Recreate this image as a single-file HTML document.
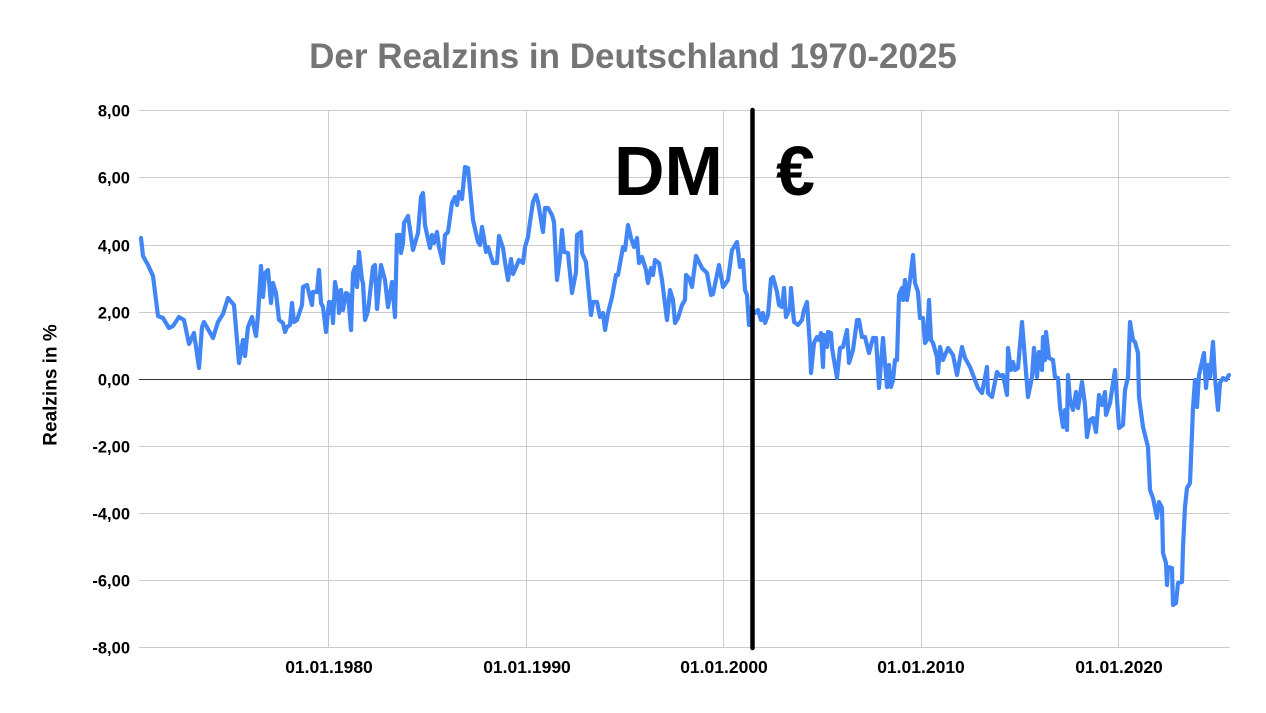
<!DOCTYPE html>
<html>
<head>
<meta charset="utf-8">
<style>
  html, body { margin: 0; padding: 0; background: #ffffff; }
  svg { display: block; }
</style>
</head>
<body>
<svg width="1266" height="713" viewBox="0 0 1266 713" xmlns="http://www.w3.org/2000/svg" font-family="'Liberation Sans', Arial, sans-serif">
  <rect x="0" y="0" width="1266" height="713" fill="#ffffff"/>

  <!-- Title -->
  <text x="633" y="68" text-anchor="middle" font-size="35" font-weight="bold" fill="#757575">Der Realzins in Deutschland 1970-2025</text>

  <!-- Horizontal gridlines -->
  <g stroke="#cccccc" stroke-width="1">
    <line x1="139" y1="110.5" x2="1230" y2="110.5"/>
    <line x1="139" y1="177.5" x2="1230" y2="177.5"/>
    <line x1="139" y1="245.5" x2="1230" y2="245.5"/>
    <line x1="139" y1="312.5" x2="1230" y2="312.5"/>
    <line x1="139" y1="446.5" x2="1230" y2="446.5"/>
    <line x1="139" y1="513.5" x2="1230" y2="513.5"/>
    <line x1="139" y1="580.5" x2="1230" y2="580.5"/>
    <line x1="139" y1="647.5" x2="1230" y2="647.5"/>
  </g>
  <!-- Vertical gridlines -->
  <g stroke="#cccccc" stroke-width="1">
    <line x1="328.5" y1="110" x2="328.5" y2="648"/>
    <line x1="526.5" y1="110" x2="526.5" y2="648"/>
    <line x1="723.5" y1="110" x2="723.5" y2="648"/>
    <line x1="921.5" y1="110" x2="921.5" y2="648"/>
    <line x1="1118.5" y1="110" x2="1118.5" y2="648"/>
  </g>
  <!-- Zero line -->
  <line x1="139" y1="379.5" x2="1230" y2="379.5" stroke="#333333" stroke-width="1"/>

  <!-- Y tick labels -->
  <g font-size="16.5" font-weight="bold" fill="#000000" text-anchor="end">
    <text x="130" y="116.5">8,00</text>
    <text x="130" y="183.5">6,00</text>
    <text x="130" y="251.5">4,00</text>
    <text x="130" y="318.5">2,00</text>
    <text x="130" y="385.5">0,00</text>
    <text x="130" y="452.5">-2,00</text>
    <text x="130" y="519.5">-4,00</text>
    <text x="130" y="586.5">-6,00</text>
    <text x="130" y="653.5">-8,00</text>
  </g>

  <!-- X tick labels -->
  <g font-size="17.5" font-weight="bold" fill="#000000" text-anchor="middle">
    <text x="329" y="673">01.01.1980</text>
    <text x="527" y="673">01.01.1990</text>
    <text x="724" y="673">01.01.2000</text>
    <text x="921" y="673">01.01.2010</text>
    <text x="1119" y="673">01.01.2020</text>
  </g>

  <!-- Y axis title -->
  <text x="56.5" y="385" transform="rotate(-90 56.5 385)" text-anchor="middle" font-size="19" font-weight="bold" fill="#000000">Realzins in %</text>

  <!-- Series -->
  <polyline fill="none" stroke="#4285f4" stroke-width="4.2" stroke-linejoin="round" stroke-linecap="round"
    points="141,238 143,256 148,265 153,276 158,316 163,318 169,328 173,326 179,317 184,320 189,344 194,333 199,368 202,327 204,322 213,338 218,322 223,314 228,298 234,305 239,363 243,340 245,356 248,327 252,317 254,327 256,336 258,315 261,266 263,297 265,273 268,270 271,303 273,283 276,293 279,320 283,323 285,332 287,327 290,325 292,303 294,322 297,320 302,305 303,287 307,285 312,305 313,292 317,292 319,270 321,303 323,307 326,332 329,302 330,313 332,302 333,323 335,282 338,297 339,313 341,290 343,310 346,293 348,294 351,330 353,273 355,267 357,287 359,252 362,280 363,283 365,320 368,311 373,267 375,265 377,309 381,265 385,280 388,307 392,282 395,317 397,235
    400,235 401,253 403,243 404,223 408,216 413,250 418,233 421,197 423,193 425,225 430,248 432,235 434,243 437,232 439,247 443,263 445,235 448,232 452,203 455,197 457,205 459,192 462,199 465,167 468,168 473,220 478,242 480,245 482,227 484,238 486,252 488,247 493,263 497,263 499,236 503,248 505,262 508,280 511,259 513,274 519,260 523,263 525,247 528,237 530,222 533,202 536,195 538,202 543,232 545,208 548,208 552,215 554,222 557,280 560,257 562,230 564,252 568,253 572,293 576,272 577,235 581,232 582,253 586,262 591,315 593,302 597,302 600,317 603,313 605,330 608,313 612,297 616,275 618,275 623,247 625,250 628,225 631,238 634,247 637,238 639,263 642,257 646,270 648,283 651,268 653,275 655,260 659,263 662,280 667,320 670,290 673,300 675,323 678,318 682,305 685,300 686,275 689,278 692,287 696,256 702,268 707,273 711,295 713,294 719,265 723,287 728,280
    732,250 734,247 737,242 740,267 743,260 745,290 747,295 749,325 751,307 755,313 758,310 761,320 763,313 765,323 768,315 771,279 773,277 777,292 779,305 782,307 784,288 786,317 790,308 791,288 794,322 798,325 802,320 804,310 807,302 810,347 811,373 814,343 817,337 819,340 821,333 823,367 824,335 827,347 828,332 831,333 832,348 837,378 840,348 843,347 847,330 849,363 853,350 857,320 859,320 862,337 865,337 869,353 873,338 876,338 879,388 883,338 887,387 889,365 891,387 893,380 895,360 897,360 899,295 902,288 903,300 905,280 907,300 910,280 913,255 915,283 918,292 920,318 923,318 925,343 927,340 929,300 931,340 933,343 937,357 938,373 940,347 943,360 948,348 953,355 957,375 962,347 965,358 970,367 975,380 978,388 982,393 987,367 988,393 992,397 997,372
    1000,376 1003,375 1007,395 1008,348 1011,370 1013,362 1015,370 1018,368 1022,322 1024,347 1028,397 1032,377 1034,348 1037,377 1039,352 1042,370 1043,337 1045,360 1046,332 1049,358 1053,360 1055,377 1058,378 1060,407 1063,427 1065,410 1067,430 1068,375 1070,400 1073,410 1076,392 1078,408 1082,382 1085,405 1087,437 1090,420 1093,418 1096,432 1099,395 1102,405 1105,392 1106,415 1110,403 1115,370 1119,428 1123,425 1125,390 1128,377 1130,322 1133,340 1135,342 1138,353 1139,397 1143,427 1148,447 1150,490 1153,498 1157,518 1159,502 1162,508 1163,553 1166,563 1167,585 1168,567 1172,568 1173,605 1176,603 1178,583 1182,582 1183,547 1185,507 1187,488 1190,483 1193,408 1195,380 1197,407 1199,375 1204,353 1206,388 1208,365 1210,377 1213,342 1215,378 1218,410 1220,383 1223,378 1226,380 1229,375"/>

  <!-- Separator line DM / Euro -->
  <line x1="752.5" y1="110" x2="752.5" y2="648" stroke="#000000" stroke-width="4.5" stroke-linecap="round"/>

  <!-- Annotations -->
  <text x="614" y="195" font-size="70" font-weight="bold" fill="#000000">DM</text>
  <text x="776" y="195" font-size="70" font-weight="bold" fill="#000000">€</text>
</svg>
</body>
</html>
